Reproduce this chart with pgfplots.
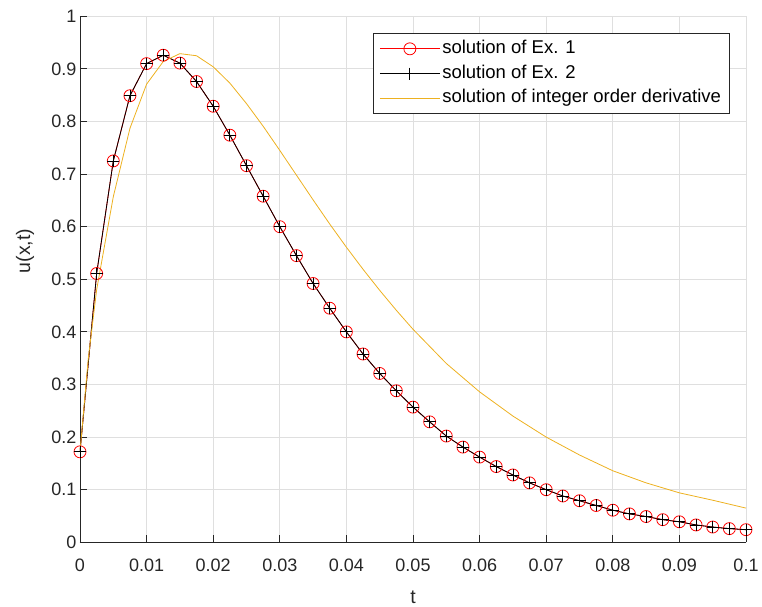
\documentclass[border=0pt]{standalone}
\usepackage{fontspec}
\setmainfont{Liberation Sans}
\usepackage{pgfplots}
\pgfplotsset{compat=1.18}

\definecolor{axiscol}{RGB}{38,38,38}
\definecolor{gridcol}{RGB}{223,223,223}
\definecolor{mred}{RGB}{255,0,0}
\definecolor{myellow}{RGB}{237,177,32}

\newcommand{\tickfont}{\fontsize{18bp}{21bp}\selectfont}
\newcommand{\legfont}{\fontsize{18.5bp}{22bp}\selectfont}
\newcommand{\labfont}{\fontsize{19.5bp}{23bp}\selectfont}

% Ex. 1 / Ex. 2 (same values)
\pgfplotstableread{
t u
0 0.172
0.0025 0.511
0.005 0.725
0.0075 0.849
0.01 0.910
0.0125 0.926
0.015 0.911
0.0175 0.876
0.02 0.829
0.0225 0.774
0.025 0.716
0.0275 0.658
0.03 0.600
0.0325 0.545
0.035 0.492
0.0375 0.445
0.04 0.400
0.0425 0.358
0.045 0.321
0.0475 0.288
0.05 0.257
0.0525 0.229
0.055 0.202
0.0575 0.181
0.06 0.162
0.0625 0.144
0.065 0.128
0.0675 0.113
0.07 0.100
0.0725 0.088
0.075 0.079
0.0775 0.070
0.08 0.061
0.0825 0.054
0.085 0.049
0.0875 0.043
0.09 0.039
0.0925 0.033
0.095 0.029
0.0975 0.026
0.1 0.024
}\exone

% integer order derivative
\pgfplotstableread{
t u
0 0.172
0.00125 0.35
0.0025 0.48
0.005 0.657
0.0075 0.787
0.01 0.871
0.0125 0.914
0.015 0.929
0.0175 0.925
0.02 0.904
0.0225 0.873
0.025 0.834
0.0275 0.791
0.03 0.745
0.0325 0.698
0.035 0.651
0.0375 0.605
0.04 0.561
0.0425 0.519
0.045 0.479
0.0475 0.441
0.05 0.405
0.055 0.340
0.06 0.286
0.065 0.240
0.07 0.200
0.075 0.166
0.08 0.136
0.085 0.113
0.09 0.094
0.095 0.080
0.1 0.065
}\intorder

\begin{document}
\begin{tikzpicture}
\useasboundingbox (-80bp,-64.7bp) rectangle (682bp,542.3bp);
\begin{axis}[
  scale only axis,
  width=666bp,
  height=526bp,
  xmin=0, xmax=0.1,
  ymin=0, ymax=1,
  xtick={0,0.01,0.02,0.03,0.04,0.05,0.06,0.07,0.08,0.09,0.1},
  xticklabels={0,0.01,0.02,0.03,0.04,0.05,0.06,0.07,0.08,0.09,0.1},
  ytick={0,0.1,0.2,0.3,0.4,0.5,0.6,0.7,0.8,0.9,1},
  yticklabels={0,0.1,0.2,0.3,0.4,0.5,0.6,0.7,0.8,0.9,1},
  axis x line*=bottom,
  axis y line*=left,
  axis line style={-, draw=axiscol, line width=0.8bp},
  tick align=inside,
  major tick length=7bp,
  tick style={draw=axiscol, line width=0.8bp},
  grid=major,
  major grid style={draw=gridcol, line width=0.8bp},
  tick label style={font=\tickfont, text=axiscol},
  every x tick label/.append style={inner ysep=16bp},
  xlabel={t},
  ylabel={u(x,t)},
  every axis x label/.style={at={(axis description cs:0.5,0)}, anchor=base, yshift=-60.7bp, font=\labfont, text=axiscol},
  every axis y label/.style={at={([xshift=-55bp]axis description cs:0,0.554)}, rotate=90, anchor=center, font=\labfont, text=axiscol},
  legend style={
    at={(axis description cs:0.975,0.968)}, anchor=north east,
    draw=axiscol, line width=0.8bp, fill=white,
    font=\legfont, text=black,
    inner xsep=6bp, inner ysep=6.8bp, row sep=7.7bp,
    nodes={text height=13bp, text depth=4bp, inner ysep=0bp},
  },
  legend cell align=left,
  legend image code/.code={
    \draw[mark repeat=2, mark phase=2] plot coordinates {(0bp,0bp) (30bp,0bp) (60bp,0bp)};
  },
]
\addplot[color=mred, line width=0.8bp, mark=o, mark size=6bp, mark options={line width=0.8bp}] table[x=t, y=u] {\exone};
\addlegendentry{solution of Ex. 1}
\addplot[color=black, line width=0.8bp, mark=+, mark size=6bp, mark options={line width=0.8bp}] table[x=t, y=u] {\exone};
\addlegendentry{solution of Ex. 2}
\addplot[color=myellow, line width=0.8bp, no markers] table[x=t, y=u] {\intorder};
\addlegendentry{solution of integer order derivative}
\end{axis}
\end{tikzpicture}
\end{document}
